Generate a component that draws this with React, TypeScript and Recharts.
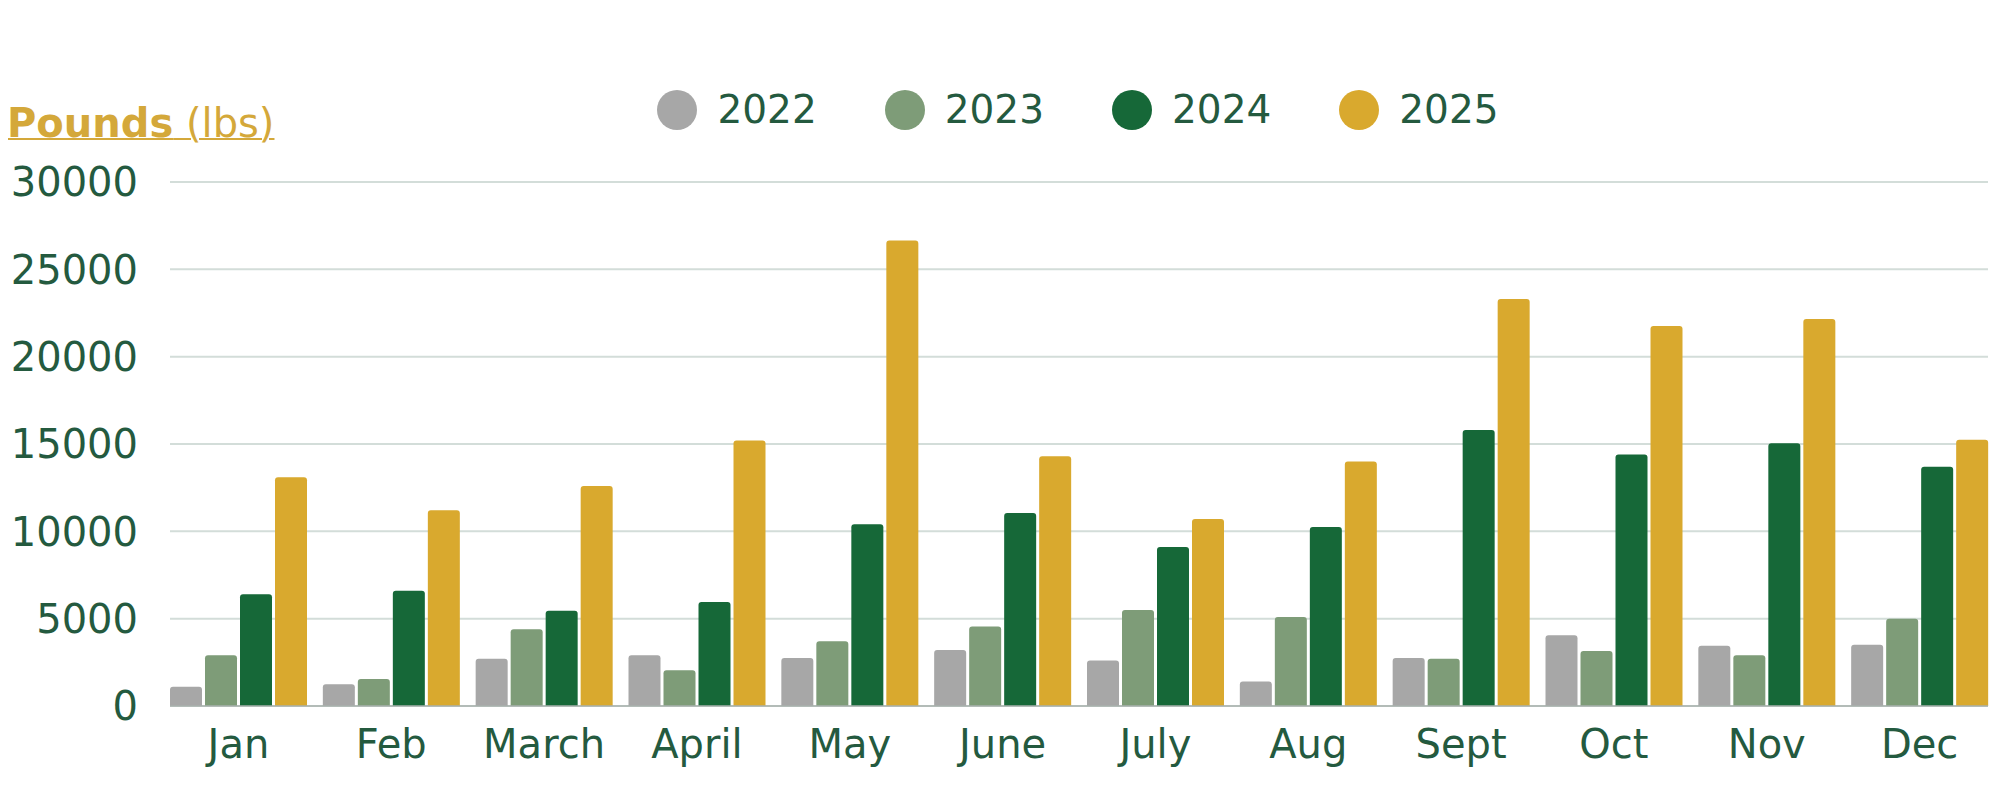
import React from 'react';
import { BarChart, Bar, XAxis, YAxis, CartesianGrid, Legend } from 'recharts';

const months = ['Jan', 'Feb', 'March', 'April', 'May', 'June', 'July', 'Aug', 'Sept', 'Oct', 'Nov', 'Dec'];
const lbs2022 = [1100, 1250, 2700, 2900, 2750, 3200, 2600, 1400, 2750, 4050, 3450, 3500];
const lbs2023 = [2900, 1550, 4400, 2050, 3700, 4550, 5500, 5100, 2700, 3150, 2900, 5000];
const lbs2024 = [6400, 6600, 5450, 5950, 10400, 11050, 9100, 10250, 15800, 14400, 15050, 13700];
const lbs2025 = [13100, 11200, 12600, 15200, 26650, 14300, 10700, 14000, 23300, 21750, 22150, 15250];
const yTicks = [0, 5000, 10000, 15000, 20000, 25000, 30000];

const series = [
  { key: 'y2022', name: '2022', color: '#a7a7a7', values: lbs2022 },
  { key: 'y2023', name: '2023', color: '#7e9c78', values: lbs2023 },
  { key: 'y2024', name: '2024', color: '#166838', values: lbs2024 },
  { key: 'y2025', name: '2025', color: '#d9a92e', values: lbs2025 },
];

const data = months.map((month, i) => {
  const row: Record<string, string | number> = { month };
  series.forEach((s) => {
    row[s.key] = s.values[i];
  });
  return row;
});

const font = '"DejaVu Sans", sans-serif';
const textColor = '#245a3f';
const gold = '#d4a83a';

const renderLegend = (props: any) => {
  const { payload = [] } = props;
  return (
    <div style={{ display: 'flex', justifyContent: 'center', gap: 68 }}>
      {payload.map((entry: any) => (
        <div key={entry.value} style={{ display: 'flex', alignItems: 'center' }}>
          <span
            style={{
              display: 'inline-block',
              width: 40,
              height: 40,
              borderRadius: '50%',
              background: entry.color,
              marginRight: 20,
            }}
          />
          <span style={{ fontSize: 39, lineHeight: '40px', color: textColor, fontFamily: font }}>
            {entry.value}
          </span>
        </div>
      ))}
    </div>
  );
};

export default function App() {
  return (
    <div style={{ position: 'relative', width: 1984, height: 784, fontFamily: font }}>
      <div
        style={{
          position: 'absolute',
          left: -1,
          top: 95,
          fontSize: 40,
          lineHeight: '40px',
          color: gold,
          textDecoration: 'underline',
          textDecorationThickness: 2,
          whiteSpace: 'nowrap',
          zIndex: 2,
        }}
      >
        <span style={{ fontWeight: 700 }}>Pounds</span> (lbs)
      </div>
      <BarChart
        width={1984}
        height={784}
        data={data}
        margin={{ top: 174, right: 4, bottom: 26, left: 0 }}
        barGap={3}
        barCategoryGap={8}
      >
        <CartesianGrid vertical={false} stroke="#d3ddd9" strokeWidth={2} />
        <XAxis
          dataKey="month"
          height={60}
          padding={{ left: -8, right: -8 }}
          tickLine={false}
          tickSize={0}
          tickMargin={24}
          axisLine={{ stroke: '#a9b1ad', strokeWidth: 1.5 }}
          tick={{ fill: textColor, fontSize: 40, fontFamily: font }}
          interval={0}
        />
        <YAxis
          width={162}
          domain={[0, 30000]}
          ticks={yTicks}
          tickLine={false}
          axisLine={false}
          tickSize={0}
          tickMargin={32}
          tick={{ fill: textColor, fontSize: 40, fontFamily: font }}
        />
        <Legend
          layout="horizontal"
          verticalAlign="middle"
          align="center"
          content={renderLegend}
          wrapperStyle={{ top: 82, left: 170, width: 1800 }}
        />
        {series.map((s) => (
          <Bar
            key={s.key}
            dataKey={s.key}
            name={s.name}
            fill={s.color}
            radius={[3, 3, 0, 0]}
            isAnimationActive={false}
          />
        ))}
      </BarChart>
    </div>
  );
}
